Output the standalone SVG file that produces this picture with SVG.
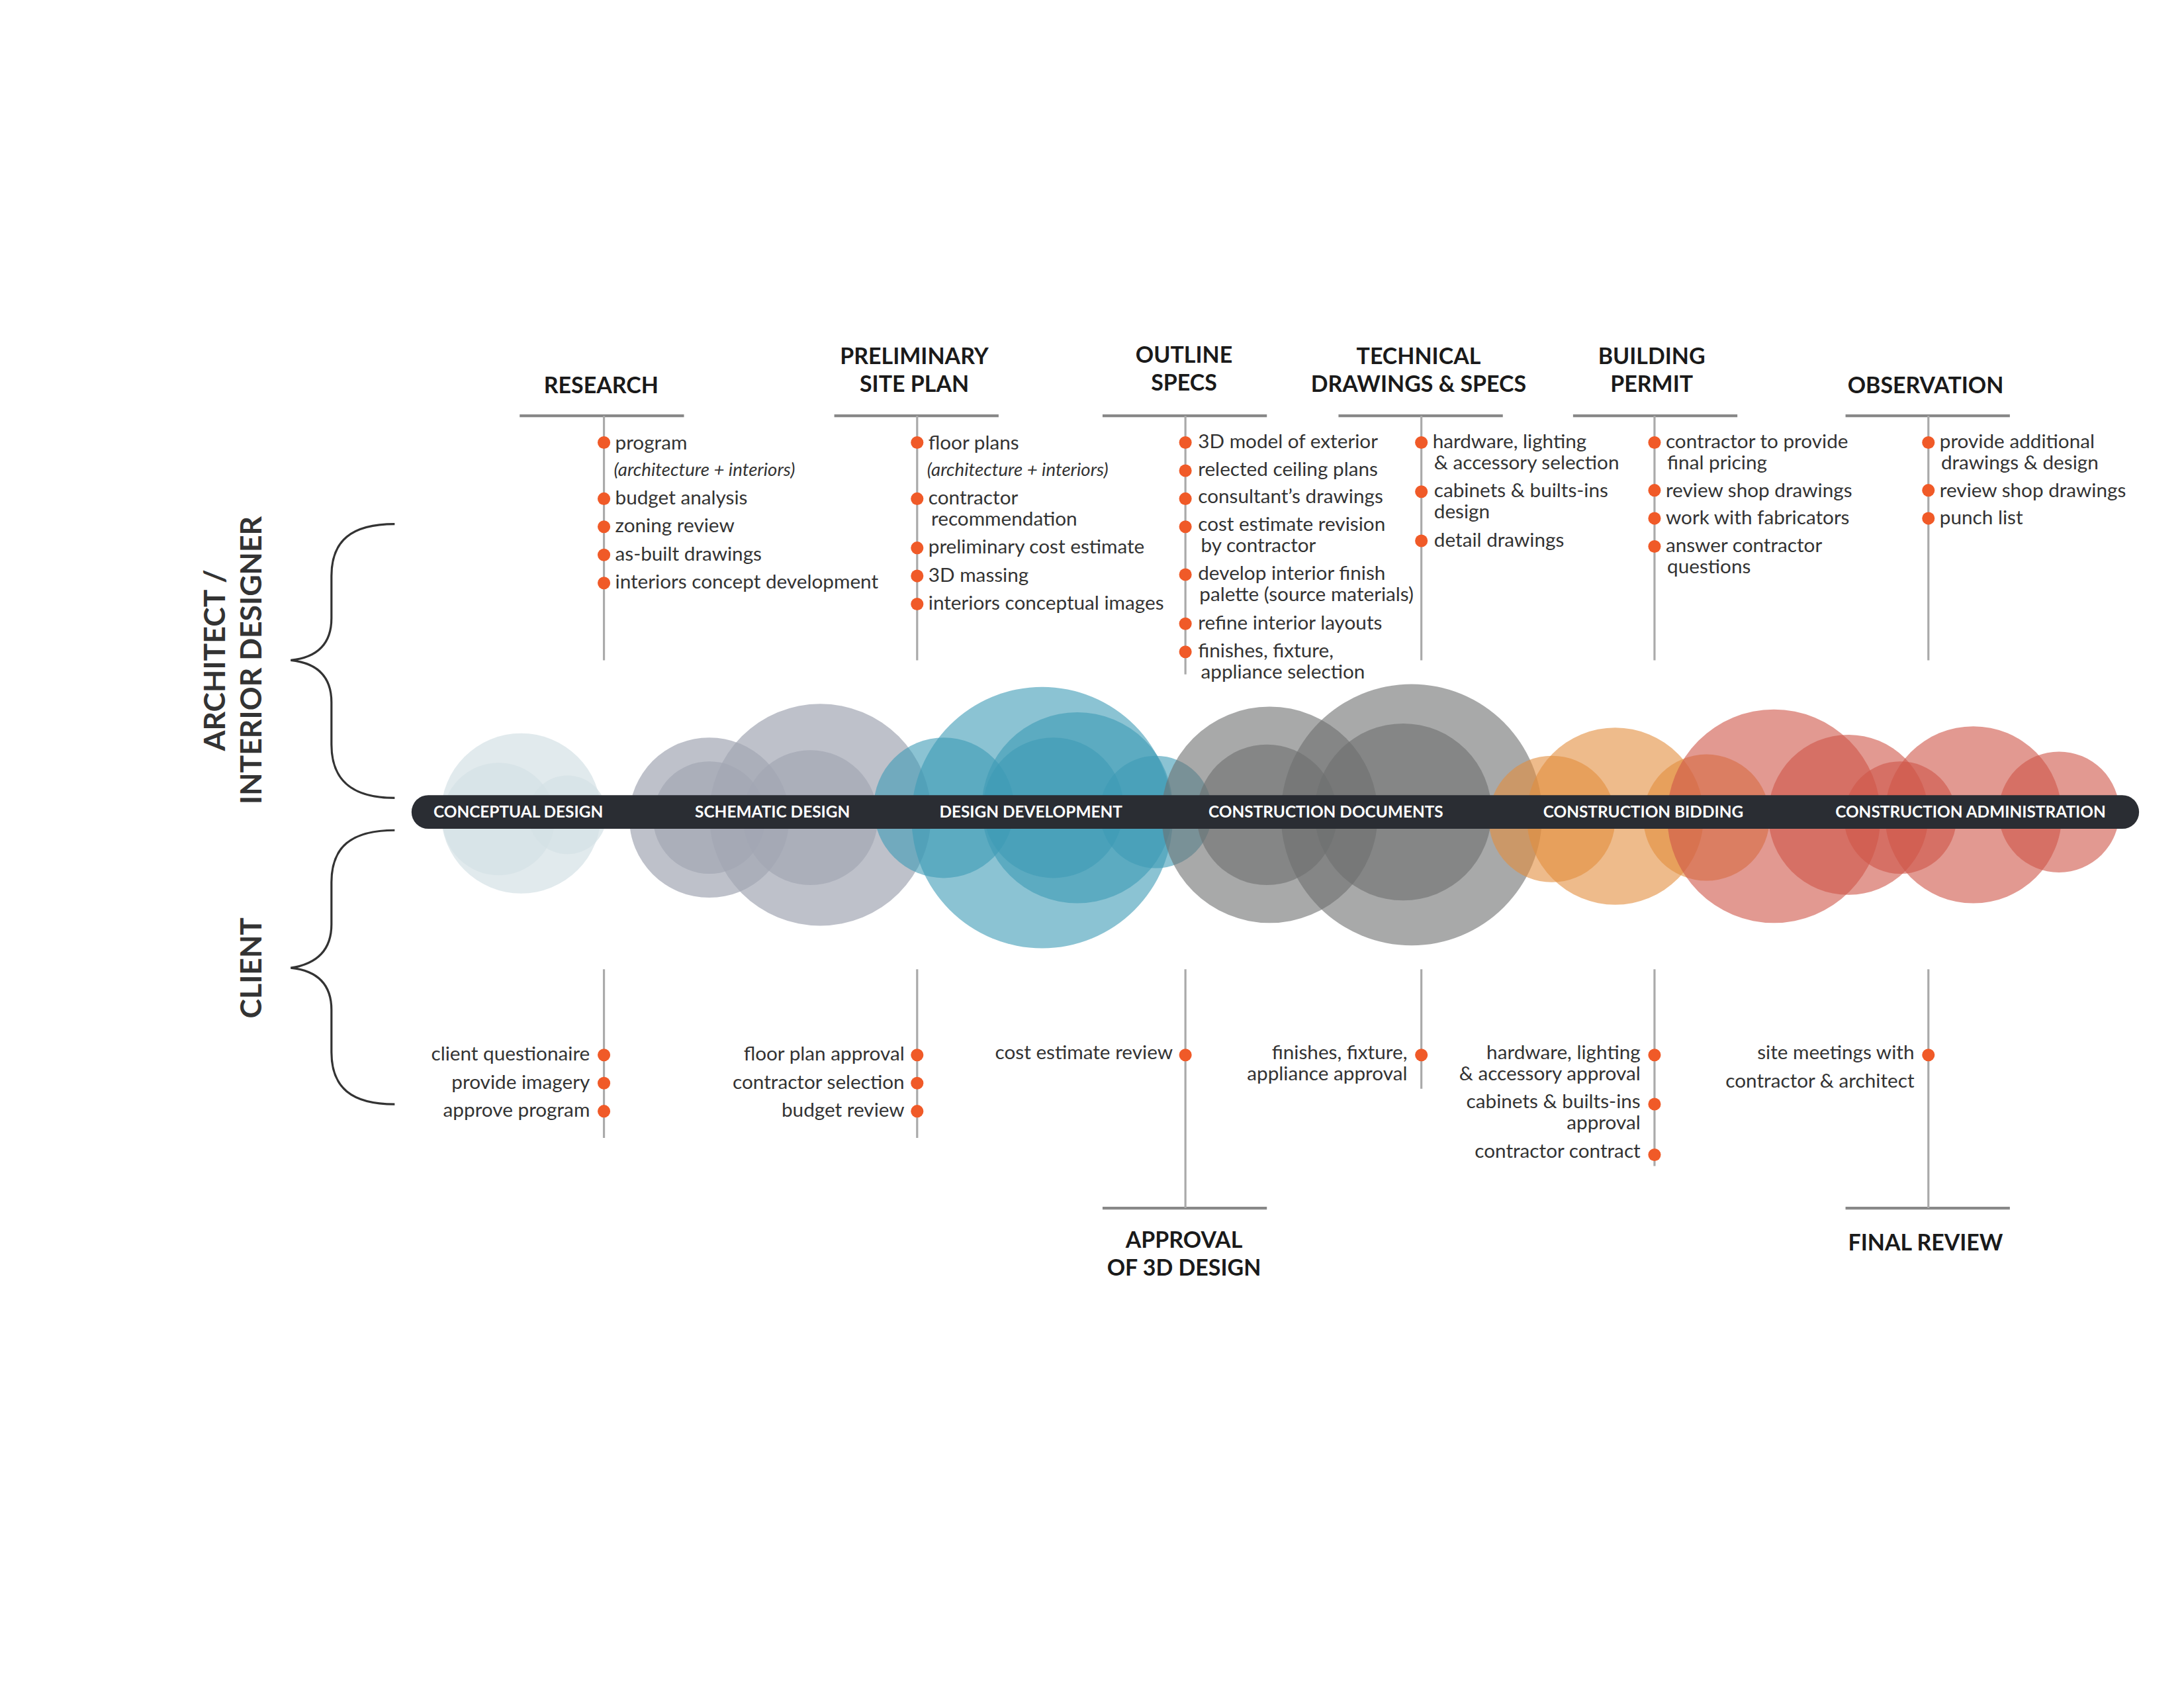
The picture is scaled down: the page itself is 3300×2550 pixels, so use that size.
<svg xmlns="http://www.w3.org/2000/svg" width="3300" height="2550" viewBox="0 0 3300 2550">
<style>
.h{font-family:Lato,"Liberation Sans",sans-serif;font-weight:bold;font-size:16px;fill:#1a1a1a;text-anchor:middle}
.t{font-family:Lato,"Liberation Sans",sans-serif;font-size:14px;fill:#333}
.r{text-anchor:end}
.i{font-style:italic;font-size:13px}
.bl{font-family:Lato,"Liberation Sans",sans-serif;font-weight:bold;font-size:11.5px;fill:#fff;text-anchor:middle}
.ln{stroke:#aaa;stroke-width:1.5;fill:none}
.hl{stroke:#888;stroke-width:2;fill:none}
.d{fill:#f05a28}
.side{font-family:Lato,"Liberation Sans",sans-serif;font-weight:bold;font-size:21px;fill:#333;text-anchor:middle}
</style>
<rect width="3300" height="2550" fill="#fff"/>
<g transform="scale(2.1222)">
<g id="bubbles">
<g fill="#d4e1e6" fill-opacity="0.7"><circle cx="371" cy="579" r="57"/><circle cx="355" cy="583" r="40"/><circle cx="404" cy="580" r="28"/></g>
<g fill="#a3a7b3" fill-opacity="0.7"><circle cx="505" cy="582" r="57"/><circle cx="584" cy="580" r="79"/><circle cx="505" cy="582" r="40"/><circle cx="577" cy="582" r="48"/></g>
<g fill="#3d9bb6" fill-opacity="0.6"><circle cx="672" cy="575" r="50"/><circle cx="742" cy="582" r="93"/><circle cx="767" cy="575" r="68"/><circle cx="750" cy="575" r="50"/><circle cx="823" cy="578" r="40"/></g>
<g fill="#6e6f70" fill-opacity="0.6"><circle cx="904" cy="580" r="77"/><circle cx="1005" cy="580" r="93"/><circle cx="902" cy="580" r="50"/><circle cx="999" cy="578" r="63"/></g>
<g fill="#e38e3e" fill-opacity="0.6"><circle cx="1105" cy="583" r="45"/><circle cx="1150" cy="581" r="63"/><circle cx="1215" cy="582" r="45"/></g>
<g fill="#cf5548" fill-opacity="0.6"><circle cx="1263" cy="581" r="76"/><circle cx="1316" cy="580" r="57"/><circle cx="1353" cy="582" r="40"/><circle cx="1405" cy="580" r="63"/><circle cx="1466" cy="578" r="43"/></g>
</g>
<g id="bar">
<rect x="293" y="566" width="1230" height="24" rx="12" fill="#2a2d33"/>
<text class="bl" x="369" y="582">CONCEPTUAL DESIGN</text>
<text class="bl" x="550" y="582">SCHEMATIC DESIGN</text>
<text class="bl" x="734" y="582">DESIGN DEVELOPMENT</text>
<text class="bl" x="944" y="582">CONSTRUCTION DOCUMENTS</text>
<text class="bl" x="1170" y="582">CONSTRUCTION BIDDING</text>
<text class="bl" x="1403" y="582">CONSTRUCTION ADMINISTRATION</text>
</g>
<g id="connectors">
<path class="hl" d="M370 296H487M594 296H711M785 296H902M953 296H1070M1120 296H1237M1314 296H1431M785 860H902M1314 860H1431"/>
<path class="ln" d="M430 296V470M653 296V470M844 296V480M1012 296V470M1178 296V470M1373 296V470M430 690V810M653 690V810M844 690V860M1012 690V775M1178 690V830M1373 690V860"/>
<path d="M281 373C250 373 236 385 236 410V440C236 458 226 468 207 470C226 472 236 482 236 500V530C236 555 250 568 281 568" fill="none" stroke="#333" stroke-width="1.5"/>
<path d="M281 591C250 591 236 603 236 628V658C236 676 226 686 207 689C226 691 236 701 236 719V749C236 774 250 786 281 786" fill="none" stroke="#333" stroke-width="1.5"/>
</g>
<g id="side-labels">
<text class="side" transform="translate(160 470) rotate(-90)">ARCHITECT /</text>
<text class="side" transform="translate(186 470) rotate(-90)">INTERIOR DESIGNER</text>
<text class="side" transform="translate(186 689) rotate(-90)">CLIENT</text>
</g>
<g id="research">
<text class="h" x="428" y="280">RESEARCH</text>
<g class="d"><circle cx="430" cy="315" r="4.5"/><circle cx="430" cy="355" r="4.5"/><circle cx="430" cy="375" r="4.5"/><circle cx="430" cy="395" r="4.5"/><circle cx="430" cy="415" r="4.5"/></g>
<text class="t" x="438" y="320">program</text>
<text class="t i" x="437" y="339">(architecture + interiors)</text>
<text class="t" x="438" y="359">budget analysis</text>
<text class="t" x="438" y="379">zoning review</text>
<text class="t" x="438" y="399">as-built drawings</text>
<text class="t" x="438" y="419">interiors concept development</text>
</g>
<g id="prelim">
<text class="h" x="651" y="259">PRELIMINARY</text><text class="h" x="651" y="279">SITE PLAN</text>
<g class="d"><circle cx="653" cy="315" r="4.5"/><circle cx="653" cy="355" r="4.5"/><circle cx="653" cy="390" r="4.5"/><circle cx="653" cy="410" r="4.5"/><circle cx="653" cy="430" r="4.5"/></g>
<text class="t" x="661" y="320">floor plans</text>
<text class="t i" x="660" y="339">(architecture + interiors)</text>
<text class="t" x="661" y="359">contractor</text>
<text class="t" x="663" y="374">recommendation</text>
<text class="t" x="661" y="394">preliminary cost estimate</text>
<text class="t" x="661" y="414">3D massing</text>
<text class="t" x="661" y="434">interiors conceptual images</text>
</g>
<g id="outline">
<text class="h" x="843" y="258">OUTLINE</text><text class="h" x="843" y="278">SPECS</text>
<g class="d"><circle cx="844" cy="315" r="4.5"/><circle cx="844" cy="335" r="4.5"/><circle cx="844" cy="355" r="4.5"/><circle cx="844" cy="375" r="4.5"/><circle cx="844" cy="409" r="4.5"/><circle cx="844" cy="444" r="4.5"/><circle cx="844" cy="464" r="4.5"/></g>
<text class="t" x="853" y="319">3D model of exterior</text>
<text class="t" x="853" y="339">relected ceiling plans</text>
<text class="t" x="853" y="358">consultant’s drawings</text>
<text class="t" x="853" y="378">cost estimate revision</text>
<text class="t" x="855" y="393">by contractor</text>
<text class="t" x="853" y="413">develop interior finish</text>
<text class="t" x="854" y="428">palette (source materials)</text>
<text class="t" x="853" y="448">refine interior layouts</text>
<text class="t" x="853" y="468">finishes, fixture,</text>
<text class="t" x="855" y="483">appliance selection</text>
</g>
<g id="technical">
<text class="h" x="1010" y="259">TECHNICAL</text><text class="h" x="1010" y="279">DRAWINGS &amp; SPECS</text>
<g class="d"><circle cx="1012" cy="315" r="4.5"/><circle cx="1012" cy="350" r="4.5"/><circle cx="1012" cy="385" r="4.5"/></g>
<text class="t" x="1020" y="319">hardware, lighting</text>
<text class="t" x="1021" y="334">&amp; accessory selection</text>
<text class="t" x="1021" y="354">cabinets &amp; builts-ins</text>
<text class="t" x="1021" y="369">design</text>
<text class="t" x="1021" y="389">detail drawings</text>
</g>
<g id="permit">
<text class="h" x="1176" y="259">BUILDING</text><text class="h" x="1176" y="279">PERMIT</text>
<g class="d"><circle cx="1178" cy="315" r="4.5"/><circle cx="1178" cy="349" r="4.5"/><circle cx="1178" cy="369" r="4.5"/><circle cx="1178" cy="389" r="4.5"/></g>
<text class="t" x="1186" y="319">contractor to provide</text>
<text class="t" x="1187" y="334">final pricing</text>
<text class="t" x="1186" y="354">review shop drawings</text>
<text class="t" x="1186" y="373">work with fabricators</text>
<text class="t" x="1186" y="393">answer contractor</text>
<text class="t" x="1187" y="408">questions</text>
</g>
<g id="observation">
<text class="h" x="1371" y="280">OBSERVATION</text>
<g class="d"><circle cx="1373" cy="315" r="4.5"/><circle cx="1373" cy="349" r="4.5"/><circle cx="1373" cy="369" r="4.5"/></g>
<text class="t" x="1381" y="319">provide additional</text>
<text class="t" x="1382" y="334">drawings &amp; design</text>
<text class="t" x="1381" y="354">review shop drawings</text>
<text class="t" x="1381" y="373">punch list</text>
</g>
<g id="client">
<g class="d"><circle cx="430" cy="751" r="4.5"/><circle cx="430" cy="771" r="4.5"/><circle cx="430" cy="791" r="4.5"/>
<circle cx="653" cy="751" r="4.5"/><circle cx="653" cy="771" r="4.5"/><circle cx="653" cy="791" r="4.5"/>
<circle cx="844" cy="751" r="4.5"/><circle cx="1012" cy="751" r="4.5"/>
<circle cx="1178" cy="751" r="4.5"/><circle cx="1178" cy="786" r="4.5"/><circle cx="1178" cy="822" r="4.5"/><circle cx="1373" cy="751" r="4.5"/></g>
<text class="t r" x="420" y="755">client questionaire</text>
<text class="t r" x="420" y="775">provide imagery</text>
<text class="t r" x="420" y="795">approve program</text>
<text class="t r" x="644" y="755">floor plan approval</text>
<text class="t r" x="644" y="775">contractor selection</text>
<text class="t r" x="644" y="795">budget review</text>
<text class="t r" x="835" y="754">cost estimate review</text>
<text class="t r" x="1002" y="754">finishes, fixture,</text>
<text class="t r" x="1002" y="769">appliance approval</text>
<text class="t r" x="1168" y="754">hardware, lighting</text>
<text class="t r" x="1168" y="769">&amp; accessory approval</text>
<text class="t r" x="1168" y="789">cabinets &amp; builts-ins</text>
<text class="t r" x="1168" y="804">approval</text>
<text class="t r" x="1168" y="824">contractor contract</text>
<text class="t r" x="1363" y="754">site meetings with</text>
<text class="t r" x="1363" y="774">contractor &amp; architect</text>
<text class="h" x="843" y="888">APPROVAL</text><text class="h" x="843" y="908">OF 3D DESIGN</text>
<text class="h" x="1371" y="890">FINAL REVIEW</text>
</g>
</g>
</svg>
